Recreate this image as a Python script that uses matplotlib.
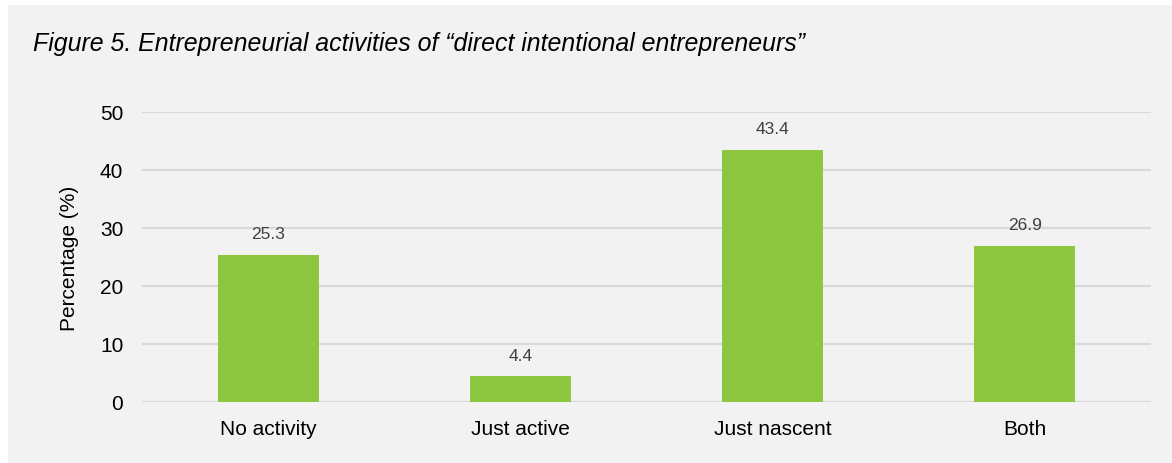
import matplotlib
matplotlib.use("Agg")
import matplotlib.pyplot as plt
from matplotlib.patches import Rectangle

categories = ["No activity", "Just active", "Just nascent", "Both"]
values = [25.3, 4.4, 43.4, 26.9]
yticks = [0, 10, 20, 30, 40, 50]

title = "Figure 5. Entrepreneurial activities of \u201cdirect intentional entrepreneurs\u201d"

plt.rcParams["font.family"] = ["Liberation Sans", "DejaVu Sans"]

W, H = 1172, 464
fig = plt.figure(figsize=(W / 100, H / 100), dpi=100)
fig.patch.set_facecolor("white")
fig.patches.append(Rectangle((8 / W, -0.01), 1.01, 1.01 - 6 / H, transform=fig.transFigure,
                             facecolor="#f2f2f2", edgecolor="none", zorder=-10))

ax = fig.add_axes([142 / W, 1 - 403 / H, (1151 - 142) / W, (403 - 113) / H])
ax.set_facecolor("none")

x = range(len(categories))
bars = ax.bar(x, values, width=0.4, color="#8dc63f", zorder=3)
for xi, v in zip(x, values):
    ax.annotate(f"{v:.1f}", (xi, v), xytext=(0, 10), textcoords="offset points",
                ha="center", va="bottom", fontsize=12.5, color="#404040")

ax.set_xlim(-0.5, len(categories) - 0.5)
ax.set_ylim(0, 50)
ax.set_yticks(yticks)
ax.set_xticks(list(x))
ax.set_xticklabels(categories)
ax.grid(axis="y", color="#d9d9d9", linewidth=1.6, zorder=0)
ax.tick_params(axis="both", length=0, labelsize=15, colors="black")
ax.tick_params(axis="x", pad=12)
ax.tick_params(axis="y", pad=13.5)
for s in ax.spines.values():
    s.set_visible(False)
ax.set_ylabel("Percentage (%)", fontsize=15, labelpad=15)

fig.text(33 / W, 1 - 44 / H, title, fontsize=17.9, style="italic", ha="left", va="center")

fig.savefig("out.png", dpi=100)
